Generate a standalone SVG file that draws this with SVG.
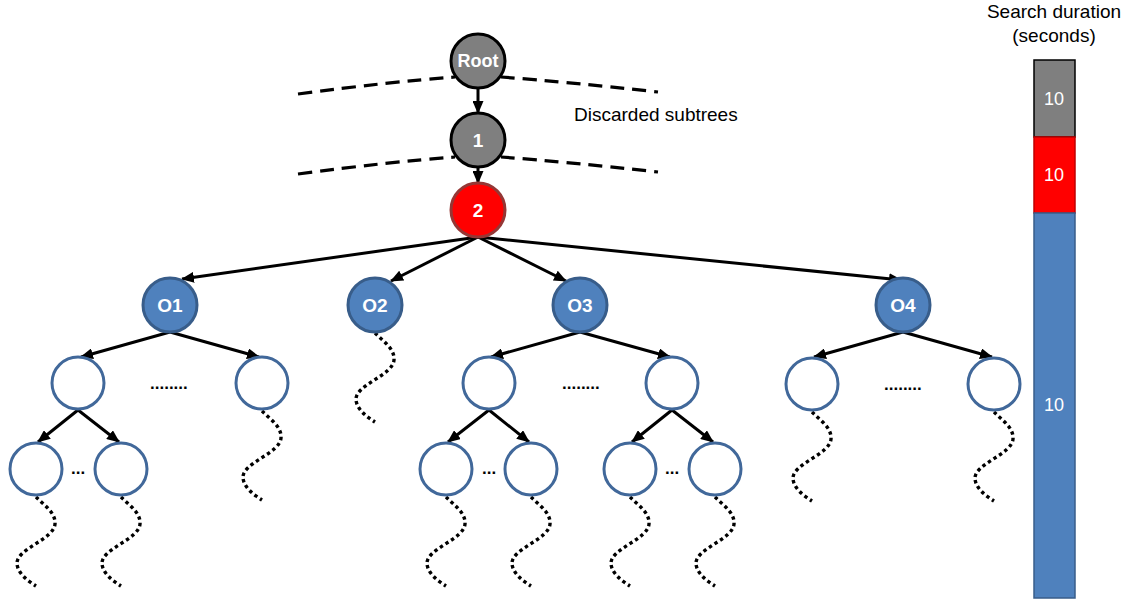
<svg xmlns="http://www.w3.org/2000/svg" xmlns:xlink="http://www.w3.org/1999/xlink" width="1127" height="602" viewBox="0 0 1127 602">
<style>
.lbl{font-family:"Liberation Sans",Arial,sans-serif;font-weight:bold;fill:#fff;text-anchor:middle;dominant-baseline:central}
.txt{font-family:"Liberation Sans",Arial,sans-serif;fill:#000;font-size:19px}
.bar{font-family:"Liberation Sans",Arial,sans-serif;fill:#fff;font-size:18px;text-anchor:middle;dominant-baseline:central}
.gray{fill:#7F7F7F;stroke:#000;stroke-width:3}
.red{fill:#FF0000;stroke:#953735;stroke-width:3}
.blue{fill:#4F81BD;stroke:#385D8A;stroke-width:3}
.empty{fill:#fff;stroke:#41689A;stroke-width:3}
.edge{stroke:#000;stroke-width:3;fill:none;marker-end:url(#arr)}
.dash{stroke:#000;stroke-width:3.2;fill:none;stroke-dasharray:14 8}
.wave{stroke:#000;stroke-width:3.4;fill:none;stroke-dasharray:3.4 3.2}
</style>
<defs>
<marker id="arr" markerUnits="userSpaceOnUse" markerWidth="13" markerHeight="11" refX="12" refY="5.5" orient="auto">
<path d="M0,0 L13,5.5 L0,11 Z" fill="#000"/>
</marker>
<path id="w" d="M0,0 C8,8 20,16 19,27 C18,42 -19,52 -19,66 C-19,76 -8,84 0,89"/>
</defs>

<g id="discard-lines">
<path class="dash" d="M298,94 Q388,82 455,77 M501,77 Q568,82 658,92"/>
<path class="dash" d="M298,174 Q388,162 455,157 M501,157 Q568,162 658,172"/>
</g>

<g id="connectors">
<line class="edge" x1="478" y1="88" x2="478" y2="113"/>
<line class="edge" x1="478" y1="167" x2="478" y2="183"/>
<line class="edge" x1="478" y1="237" x2="182" y2="279"/>
<line class="edge" x1="478" y1="237" x2="391" y2="281"/>
<line class="edge" x1="478" y1="237" x2="566" y2="281"/>
<line class="edge" x1="478" y1="237" x2="901" y2="280"/>
<line class="edge" x1="170" y1="332" x2="81" y2="357"/>
<line class="edge" x1="170" y1="332" x2="259" y2="357"/>
<line class="edge" x1="78" y1="410" x2="38" y2="442"/>
<line class="edge" x1="78" y1="410" x2="119" y2="442"/>
<line class="edge" x1="580" y1="332" x2="491" y2="357"/>
<line class="edge" x1="580" y1="332" x2="670" y2="357"/>
<line class="edge" x1="489" y1="410" x2="448" y2="442"/>
<line class="edge" x1="489" y1="410" x2="529" y2="442"/>
<line class="edge" x1="672" y1="410" x2="632" y2="442"/>
<line class="edge" x1="672" y1="410" x2="713" y2="442"/>
<line class="edge" x1="903" y1="332" x2="814" y2="357"/>
<line class="edge" x1="903" y1="332" x2="992" y2="357"/>
</g>

<g id="waves" class="wave">
<use xlink:href="#w" x="36" y="497"/>
<use xlink:href="#w" x="121" y="497"/>
<use xlink:href="#w" x="262" y="411"/>
<use xlink:href="#w" x="375" y="333"/>
<use xlink:href="#w" x="446" y="497"/>
<use xlink:href="#w" x="531" y="497"/>
<use xlink:href="#w" x="630" y="497"/>
<use xlink:href="#w" x="715" y="497"/>
<use xlink:href="#w" x="812" y="412"/>
<use xlink:href="#w" x="994" y="412"/>
</g>

<g id="node-root"><circle class="gray" cx="478" cy="61" r="27"/><text class="lbl" x="478" y="61" font-size="18">Root</text></g>
<g id="node-1"><circle class="gray" cx="478" cy="140" r="27"/><text class="lbl" x="478" y="140" font-size="19">1</text></g>
<g id="node-2"><circle class="red" cx="478" cy="210" r="27"/><text class="lbl" x="478" y="210" font-size="19">2</text></g>
<g id="node-o1"><circle class="blue" cx="170" cy="305" r="27"/><text class="lbl" x="170" y="305" font-size="19">O1</text></g>
<g id="node-o2"><circle class="blue" cx="375" cy="305" r="27"/><text class="lbl" x="375" y="305" font-size="19">O2</text></g>
<g id="node-o3"><circle class="blue" cx="580" cy="305" r="27"/><text class="lbl" x="580" y="305" font-size="19">O3</text></g>
<g id="node-o4"><circle class="blue" cx="903" cy="305" r="27"/><text class="lbl" x="903" y="305" font-size="19">O4</text></g>

<g id="node-o1-a"><circle class="empty" cx="78" cy="383" r="26"/></g>
<g id="node-o1-b"><circle class="empty" cx="262" cy="383" r="26"/></g>
<g id="node-o1-a1"><circle class="empty" cx="36" cy="469" r="26"/></g>
<g id="node-o1-a2"><circle class="empty" cx="121" cy="469" r="26"/></g>
<g id="node-o3-a"><circle class="empty" cx="489" cy="383" r="26"/></g>
<g id="node-o3-b"><circle class="empty" cx="672" cy="383" r="26"/></g>
<g id="node-o3-a1"><circle class="empty" cx="446" cy="469" r="26"/></g>
<g id="node-o3-a2"><circle class="empty" cx="531" cy="469" r="26"/></g>
<g id="node-o3-b1"><circle class="empty" cx="630" cy="469" r="26"/></g>
<g id="node-o3-b2"><circle class="empty" cx="715" cy="469" r="26"/></g>
<g id="node-o4-a"><circle class="empty" cx="812" cy="384" r="26"/></g>
<g id="node-o4-b"><circle class="empty" cx="994" cy="384" r="26"/></g>

<g id="ellipses" class="txt" font-weight="bold">
<text x="150" y="389" font-size="17">........</text>
<text x="562" y="389" font-size="17">........</text>
<text x="884" y="390" font-size="17">........</text>
<text x="71" y="474" font-size="17">...</text>
<text x="482" y="474" font-size="17">...</text>
<text x="665" y="474" font-size="17">...</text>
</g>

<text class="txt" x="574" y="121">Discarded subtrees</text>

<g id="duration-bar">
<text class="txt" x="1054" y="18" text-anchor="middle">Search duration</text>
<text class="txt" x="1054" y="42" text-anchor="middle">(seconds)</text>
<rect x="1034" y="60" width="41" height="77" fill="#7F7F7F" stroke="#000" stroke-width="1.5"/>
<rect x="1034" y="137" width="41" height="76" fill="#FF0000" stroke="#C00000" stroke-width="1.5"/>
<rect x="1034" y="213" width="41" height="385" fill="#4F81BD" stroke="#385D8A" stroke-width="1.5"/>
<text class="bar" x="1054" y="99">10</text>
<text class="bar" x="1054" y="175">10</text>
<text class="bar" x="1054" y="405">10</text>
</g>
</svg>
